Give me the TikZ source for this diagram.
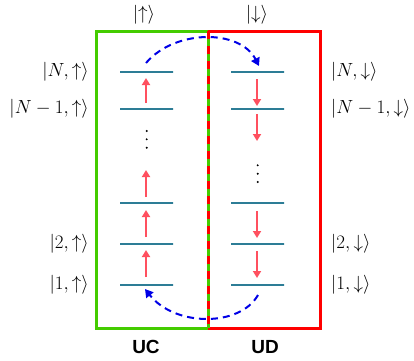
\RequirePackage{fix-cm}
\documentclass[tikz,border=0pt]{standalone}
\usepackage{fontspec}
\newfontfamily\labsans{Liberation Sans}
\usetikzlibrary{arrows.meta}
\definecolor{boxgreen}{RGB}{68,204,0}
\definecolor{boxred}{RGB}{255,0,0}
\definecolor{levelc}{RGB}{45,125,150}
\definecolor{arrowc}{RGB}{255,80,95}
\definecolor{hopc}{RGB}{0,0,230}
\tikzset{
  lvl/.style={draw=levelc, line width=2.6pt, minimum width=53pt, minimum height=0pt, inner sep=0pt},
  spinarrow/.style={draw=arrowc, line width=2pt, -{Triangle[length=7pt,width=8pt]}},
  hop/.style={draw=hopc, line width=2pt, dash pattern=on 7pt off 5pt, -{Triangle[length=8pt,width=9pt]}},
  statelbl/.style={font=\fontsize{19}{23}\selectfont, inner sep=0pt},
  boxlbl/.style={font=\labsans\bfseries\fontsize{19}{22}\selectfont, inner sep=0pt},
  vdot/.style={fill=black, circle, inner sep=0pt, minimum size=2.2pt},
}
\begin{document}
\begin{tikzpicture}[x=1pt,y=-1pt]
\useasboundingbox (0,0) rectangle (414,360);
% boxes
\draw[boxgreen, line width=3pt] (208,31) -- (96,31) -- (96,328) -- (208,328);
\draw[boxred, line width=3pt] (208,31) -- (320,31) -- (320,328) -- (208,328);
\draw[boxgreen, line width=3pt] (208,31) -- (208,328);
\draw[boxred, line width=3pt, dash pattern=on 8pt off 7pt] (208,31) -- (208,328);
% levels left
\node[lvl] (u1) at (146.5,285) {};
\node[lvl] (u2) at (146.5,244) {};
\node[lvl] (u3) at (146.5,203) {};
\node[lvl] (uN1) at (146.5,109) {};
\node[lvl] (uN) at (146.5,72) {};
% levels right
\node[lvl] (d1) at (257.5,285) {};
\node[lvl] (d2) at (257.5,244) {};
\node[lvl] (d3) at (257.5,203) {};
\node[lvl] (dN1) at (257.5,109) {};
\node[lvl] (dN) at (257.5,72) {};
% dots
\node[vdot] (ud1) at (146.7,131) {};
\node[vdot] (ud2) at (146.7,139.3) {};
\node[vdot] (ud3) at (146.7,147.7) {};
\node[vdot] (dd1) at (257.7,165.3) {};
\node[vdot] (dd2) at (257.7,173.7) {};
\node[vdot] (dd3) at (257.7,182) {};
% up arrows
\coordinate (ua0) at (146,277); \coordinate (ua0e) at (146,250);
\coordinate (ua1) at (146,237); \coordinate (ua1e) at (146,210);
\coordinate (ua2) at (146,197); \coordinate (ua2e) at (146,170);
\coordinate (ua3) at (146,103); \coordinate (ua3e) at (146,78);
\draw[spinarrow] (ua0) -- (ua0e);
\draw[spinarrow] (ua1) -- (ua1e);
\draw[spinarrow] (ua2) -- (ua2e);
\draw[spinarrow] (ua3) -- (ua3e);
% down arrows
\coordinate (da0) at (257,79); \coordinate (da0e) at (257,106);
\coordinate (da1) at (257,114); \coordinate (da1e) at (257,141);
\coordinate (da2) at (257,211); \coordinate (da2e) at (257,238);
\coordinate (da3) at (257,251); \coordinate (da3e) at (257,278);
\draw[spinarrow] (da0) -- (da0e);
\draw[spinarrow] (da1) -- (da1e);
\draw[spinarrow] (da2) -- (da2e);
\draw[spinarrow] (da3) -- (da3e);
% hopping arcs
\coordinate (h1s) at (146,63); \coordinate (h1e) at (259,66);
\draw[hop] (h1s) .. controls (175,29) and (240,29) .. (h1e);
\coordinate (h2s) at (258,295); \coordinate (h2e) at (145,289);
\draw[hop] (h2s) .. controls (240,327) and (175,327) .. (h2e);
% labels
\node[statelbl] (tup) at (144,15) {$|{\uparrow}\rangle$};
\node[statelbl] (tdn) at (257,15) {$|{\downarrow}\rangle$};
\node[statelbl, anchor=east] (lN) at (89,72) {$|N,{\uparrow}\rangle$};
\node[statelbl, anchor=east] (lN1) at (89,109) {$|N-1,{\uparrow}\rangle$};
\node[statelbl, anchor=east] (l2) at (89,244) {$|2,{\uparrow}\rangle$};
\node[statelbl, anchor=east] (l1) at (89,285) {$|1,{\uparrow}\rangle$};
\node[statelbl, anchor=west] (rN) at (331,72) {$|N,{\downarrow}\rangle$};
\node[statelbl, anchor=west] (rN1) at (331,109) {$|N-1,{\downarrow}\rangle$};
\node[statelbl, anchor=west] (r2) at (331,244) {$|2,{\downarrow}\rangle$};
\node[statelbl, anchor=west] (r1) at (331,285) {$|1,{\downarrow}\rangle$};
\node[boxlbl] (uc) at (146,347) {UC};
\node[boxlbl] (ud) at (265,347) {UD};
\end{tikzpicture}
\end{document}
